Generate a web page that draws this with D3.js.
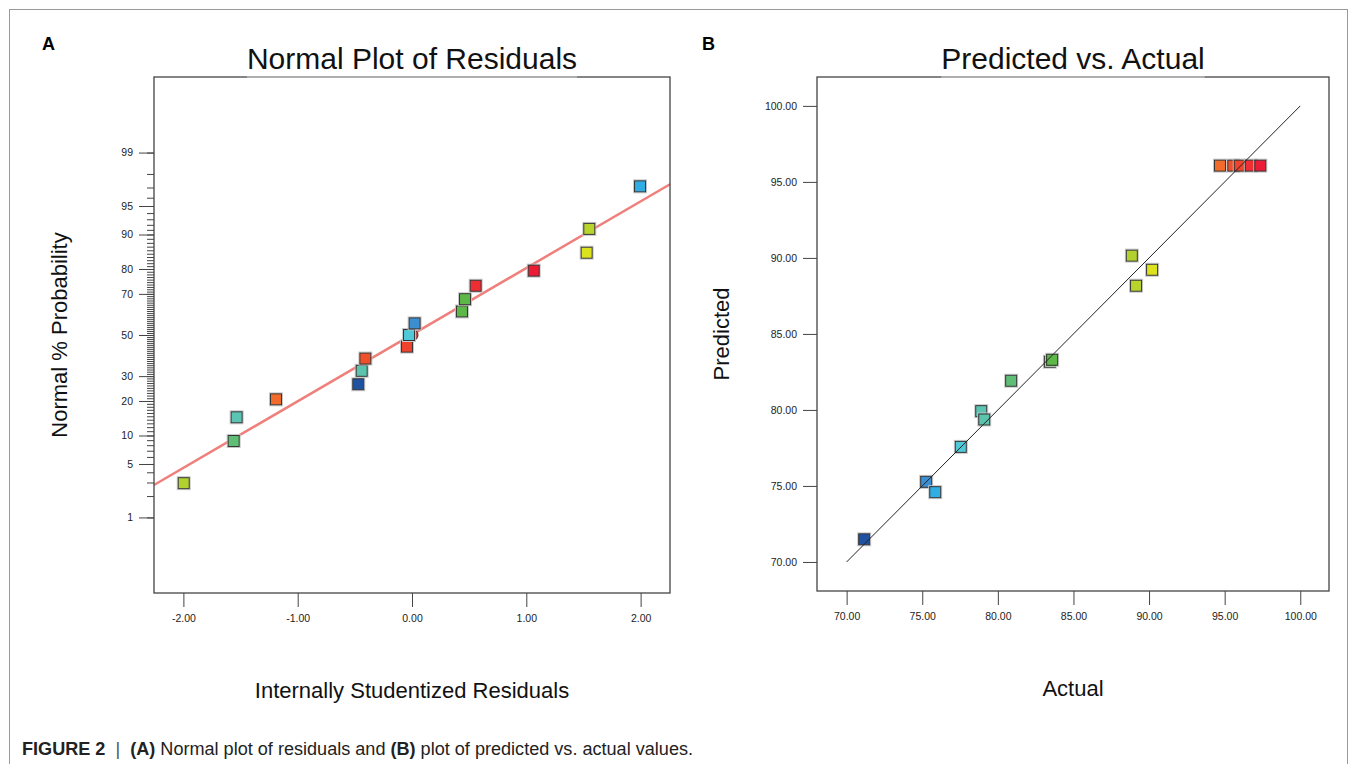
<!DOCTYPE html>
<html>
<head>
<meta charset="utf-8">
<script src="https://cdn.jsdelivr.net/npm/d3@7"></script>
<style>
  body { margin: 0; background: #fff; }
  text { font-family: "Liberation Sans", Arial, sans-serif; }
</style>
</head>
<body>
<svg id="chart"></svg>
<script>
// ---- data ----
// panel A: normal plot of residuals
const residuals = [-1.997, -1.56, -1.534, -1.19, -0.47, -0.44, -0.408, -0.044, -0.026, 0.023, 0.437, 0.464, 0.557, 1.065, 1.528, 1.551, 1.995];
const normalProb = [2.94, 8.82, 14.7, 20.6, 26.5, 32.4, 38.2, 44.1, 50.0, 55.9, 61.8, 67.6, 73.5, 79.4, 85.3, 91.2, 97.1];
const residualRunValue = [88.86, 80.88, 78.9, 94.69, 71.16, 79.1, 95.57, 96.0, 77.55, 75.26, 83.44, 83.59, 96.73, 97.36, 90.2, 89.14, 75.86];
const fitLineRes = [-2.257, 2.257];
const fitLineProb = [2.79, 97.27];
const probMajorTicks = [1, 5, 10, 20, 30, 50, 70, 80, 90, 95, 99];
const probMinorTicks = d3.range(1, 100);
const residualTicks = [-2, -1, 0, 1, 2];

// panel B: predicted vs actual
const actual = [71.16, 75.26, 75.86, 77.55, 78.9, 79.1, 80.88, 83.44, 83.59, 88.86, 89.14, 90.2, 94.69, 95.57, 96.0, 96.73, 97.36];
const predicted = [71.49, 75.27, 74.59, 77.57, 79.92, 79.37, 81.92, 83.17, 83.3, 90.15, 88.17, 89.22, 96.07, 96.07, 96.07, 96.07, 96.07];
const diagLine = [70, 100];
const valueTicks = [70, 75, 80, 85, 90, 95, 100];

// colour by response value
const colorStops = [71, 75.3, 75.9, 77.5, 79, 81, 83.5, 89, 90.2, 94.7, 95.6, 96.5];
const colorRange = ["#1f50a0", "#3b8fd0", "#2fb0e5", "#4fc8d8", "#5cc4b0", "#5fbe72", "#5cb848", "#b4d22e", "#dde21f", "#f26b2b", "#ef4f2a", "#ee3530"];

// inverse normal CDF (Acklam)
function qnorm(p) {
    const a = [-3.969683028665376e+01, 2.209460984245205e+02, -2.759285104469687e+02, 1.383577518672690e+02, -3.066479806614716e+01, 2.506628277459239e+00];
    const b = [-5.447609879822406e+01, 1.615858368580409e+02, -1.556989798598866e+02, 6.680131188771972e+01, -1.328068155288572e+01];
    const c = [-7.784894002430293e-03, -3.223964580411365e-01, -2.400758277161838e+00, -2.549732539343734e+00, 4.374664141464968e+00, 2.938163982698783e+00];
    const d = [7.784695709041462e-03, 3.224671290700398e-01, 2.445134137142996e+00, 3.754408661907416e+00];
    const pl = 0.02425;
    let q, r;
    if (p < pl) {
        q = Math.sqrt(-2 * Math.log(p));
        return (((((c[0]*q+c[1])*q+c[2])*q+c[3])*q+c[4])*q+c[5]) / ((((d[0]*q+d[1])*q+d[2])*q+d[3])*q+1);
    } else if (p <= 1 - pl) {
        q = p - 0.5; r = q * q;
        return (((((a[0]*r+a[1])*r+a[2])*r+a[3])*r+a[4])*r+a[5])*q / (((((b[0]*r+b[1])*r+b[2])*r+b[3])*r+b[4])*r+1);
    }
    q = Math.sqrt(-2 * Math.log(1 - p));
    return -(((((c[0]*q+c[1])*q+c[2])*q+c[3])*q+c[4])*q+c[5]) / ((((d[0]*q+d[1])*q+d[2])*q+d[3])*q+1);
}

const width = 1355, height = 764;
const svg = d3.select('#chart').attr('width', width).attr('height', height);
svg.append('rect').attr('width', width).attr('height', height).attr('fill', '#fff');

// outer frame
svg.append('rect')
    .attr('x', 9.5).attr('y', 9.5)
    .attr('width', 1338).attr('height', 800)
    .attr('fill', 'none').attr('stroke', '#9a9a9a');

const colorScale = d3.scaleLinear().domain(colorStops).range(colorRange);

const boxA = {left: 154, right: 670, top: 77, bottom: 593};
const boxB = {left: 817, right: 1329, top: 77, bottom: 591};

const xA = d3.scaleLinear().domain([-2.257, 2.257]).range([boxA.left, boxA.right]);
const zA = d3.scaleLinear().domain([-3.29, 3.29]).range([boxA.bottom, boxA.top]);
const yA = p => zA(qnorm(p / 100));

const xB = d3.scaleLinear().domain([68.04, 101.9]).range([boxB.left, boxB.right]);
const yB = d3.scaleLinear().domain([68.09, 101.9]).range([boxB.bottom, boxB.top]);

function styleAxis(g) {
    g.select('.domain').remove();
    g.selectAll('.tick line').attr('stroke', '#444');
    g.selectAll('.tick text')
        .attr('font-family', '"Liberation Sans", Arial, sans-serif')
        .attr('font-size', 10.5)
        .attr('fill', '#222');
}

// ---------- panel A ----------
svg.append('g')
    .attr('transform', `translate(0,${boxA.bottom})`)
    .call(d3.axisBottom(xA).tickValues(residualTicks).tickFormat(d => d.toFixed(2)).tickSize(14).tickPadding(8))
    .call(styleAxis);

svg.append('g')
    .attr('transform', `translate(${boxA.left},0)`)
    .call(d3.axisLeft(zA).tickValues(probMinorTicks.map(p => qnorm(p / 100))).tickFormat('').tickSize(7))
    .call(styleAxis);

svg.append('g')
    .attr('transform', `translate(${boxA.left},0)`)
    .call(d3.axisLeft(zA).tickValues(probMajorTicks.map(p => qnorm(p / 100)))
        .tickFormat((d, i) => probMajorTicks[i]).tickSize(15).tickPadding(6))
    .call(styleAxis);

// fitted line
svg.append('line')
    .attr('x1', xA(fitLineRes[0])).attr('y1', yA(fitLineProb[0]))
    .attr('x2', xA(fitLineRes[1])).attr('y2', yA(fitLineProb[1]))
    .attr('stroke', '#ef7f7b').attr('stroke-width', 2.5);

// centre marker of the line
svg.append('circle')
    .attr('cx', xA(0)).attr('cy', yA(50)).attr('r', 6)
    .attr('fill', '#c0504d').attr('stroke', '#333');

const ptsA = residuals.map((r, i) => ({x: r, p: normalProb[i], v: residualRunValue[i]}));
const sq = 11;

function drawSquares(g, data, fx, fy) {
    g.selectAll('.halo').data(data).enter().append('rect')
        .attr('x', d => fx(d) - sq / 2 - 1).attr('y', d => fy(d) - sq / 2 - 1)
        .attr('width', sq + 2).attr('height', sq + 2)
        .attr('fill', 'none').attr('stroke', '#c8c8c8').attr('stroke-width', 1);
    g.selectAll('.pt').data(data).enter().append('rect')
        .attr('x', d => fx(d) - sq / 2).attr('y', d => fy(d) - sq / 2)
        .attr('width', sq).attr('height', sq)
        .attr('fill', d => colorScale(d.v))
        .attr('stroke', '#333').attr('stroke-width', 1);
}

const gA = svg.append('g');
ptsA.forEach(d => drawSquares(gA.append('g'), [d], d => xA(d.x), d => yA(d.p)));

// box A
svg.append('rect')
    .attr('x', boxA.left).attr('y', boxA.top)
    .attr('width', boxA.right - boxA.left).attr('height', boxA.bottom - boxA.top)
    .attr('fill', 'none').attr('stroke', '#444').attr('stroke-width', 1.3);

// ---------- panel B ----------
svg.append('g')
    .attr('transform', `translate(0,${boxB.bottom})`)
    .call(d3.axisBottom(xB).tickValues(valueTicks).tickFormat(d => d.toFixed(2)).tickSize(14).tickPadding(8))
    .call(styleAxis);

svg.append('g')
    .attr('transform', `translate(${boxB.left},0)`)
    .call(d3.axisLeft(yB).tickValues(valueTicks).tickFormat(d => d.toFixed(2)).tickSize(14).tickPadding(6))
    .call(styleAxis);

const ptsB = actual.map((a, i) => ({a: a, p: predicted[i], v: a}));
const gB = svg.append('g');
ptsB.forEach(d => drawSquares(gB.append('g'), [d], d => xB(d.a), d => yB(d.p)));

svg.append('line')
    .attr('x1', xB(diagLine[0])).attr('y1', yB(diagLine[0]))
    .attr('x2', xB(diagLine[1])).attr('y2', yB(diagLine[1]))
    .attr('stroke', '#222').attr('stroke-width', 1);

svg.append('rect')
    .attr('x', boxB.left).attr('y', boxB.top)
    .attr('width', boxB.right - boxB.left).attr('height', boxB.bottom - boxB.top)
    .attr('fill', 'none').attr('stroke', '#444').attr('stroke-width', 1.3);

// ---------- titles and labels ----------
function title(txt, cx, box) {
    let t = svg.append('text')
        .attr('x', cx).attr('y', 69)
        .attr('text-anchor', 'middle')
        .attr('font-size', 30)
        .attr('fill', '#111')
        .text(txt);
    let len = t.node().getComputedTextLength();
    svg.append('line')
        .attr('x1', cx - len / 2).attr('x2', cx + len / 2)
        .attr('y1', box.top).attr('y2', box.top)
        .attr('stroke', '#bdbdbd').attr('stroke-width', 1.5);
}
title('Normal Plot of Residuals', (boxA.left + boxA.right) / 2, boxA);
title('Predicted vs. Actual', (boxB.left + boxB.right) / 2, boxB);

svg.append('text').attr('x', 42).attr('y', 50)
    .attr('font-size', 18).attr('font-weight', 'bold').text('A');
svg.append('text').attr('x', 702).attr('y', 50)
    .attr('font-size', 18).attr('font-weight', 'bold').text('B');

svg.append('text')
    .attr('transform', `translate(67,${(boxA.top + boxA.bottom) / 2}) rotate(-90)`)
    .attr('text-anchor', 'middle').attr('font-size', 22).attr('fill', '#111')
    .text('Normal % Probability');

svg.append('text')
    .attr('x', (boxA.left + boxA.right) / 2).attr('y', 698)
    .attr('text-anchor', 'middle').attr('font-size', 22).attr('fill', '#111')
    .text('Internally Studentized Residuals');

svg.append('text')
    .attr('transform', `translate(729,${(boxB.top + boxB.bottom) / 2}) rotate(-90)`)
    .attr('text-anchor', 'middle').attr('font-size', 22).attr('fill', '#111')
    .text('Predicted');

svg.append('text')
    .attr('x', (boxB.left + boxB.right) / 2).attr('y', 696)
    .attr('text-anchor', 'middle').attr('font-size', 22).attr('fill', '#111')
    .text('Actual');

// caption
let cap = svg.append('text').attr('x', 22).attr('y', 755)
    .attr('font-size', 17.5).attr('fill', '#222');
cap.append('tspan').attr('font-weight', 'bold').text('FIGURE 2');
cap.append('tspan').attr('fill', '#555').text(' \u00a0|\u00a0 ');
cap.append('tspan').attr('font-weight', 'bold').text('(A)');
cap.append('tspan').text(' Normal plot of residuals and ');
cap.append('tspan').attr('font-weight', 'bold').text('(B)');
cap.append('tspan').text(' plot of predicted vs. actual values.');
// squeeze to the caption width seen in the figure
cap.attr('textLength', 671).attr('lengthAdjust', 'spacingAndGlyphs');
</script>
</body>
</html>
